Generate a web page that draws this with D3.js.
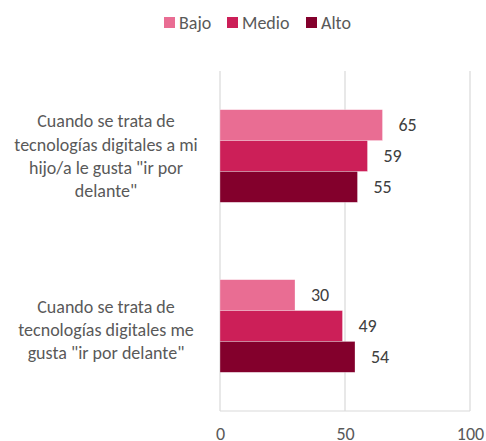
<!DOCTYPE html>
<html>
<head>
<meta charset="utf-8">
<script src="https://cdn.jsdelivr.net/npm/d3@7"></script>
<style>
  html, body { margin: 0; padding: 0; background: #fff; }
  svg { display: block; font-family: Carlito, "Open Sans", sans-serif; }
</style>
</head>
<body>
<svg id="chart" width="486" height="441"></svg>
<script>
const categories = [
  ["Cuando se trata de", "tecnologías digitales a mi", "hijo/a le gusta \"ir por", "delante\""],
  ["Cuando se trata de", "tecnologías digitales me", "gusta \"ir por delante\""]
];
const categoryKeys = ["c1", "c2"];
const seriesNames = ["Bajo", "Medio", "Alto"];
const seriesColors = ["#E96D93", "#CC1F58", "#83002C"];
const bajo = [65, 30];
const medio = [59, 49];
const alto = [55, 54];
const xTicks = [0, 50, 100];

const seriesValues = [bajo, medio, alto];
const svg = d3.select("#chart");
const FS = 18;
const x = d3.scaleLinear().domain([0, 100]).range([220, 470]);
const y = d3.scaleBand().domain(categoryKeys).range([71, 411]).paddingInner(0.455).paddingOuter(0.2275);
const ySub = d3.scaleBand().domain(seriesNames).range([0, y.bandwidth()]);

// gridlines
svg.append("g").selectAll("line").data(xTicks).join("line")
  .attr("x1", d => x(d)).attr("x2", d => x(d))
  .attr("y1", 71).attr("y2", 411)
  .attr("stroke", "#d9d9d9").attr("stroke-width", 1.2);
svg.append("line").attr("x1", x(0)).attr("x2", x(100)).attr("y1", 411).attr("y2", 411)
  .attr("stroke", "#d9d9d9").attr("stroke-width", 1.2);

// bars
seriesNames.forEach((s, si) => {
  const g = svg.append("g");
  g.selectAll("rect").data(categoryKeys).join("rect")
    .attr("x", x(0))
    .attr("y", (c) => y(c) + ySub(s))
    .attr("width", (c, i) => x(seriesValues[si][i]) - x(0))
    .attr("height", ySub.bandwidth())
    .attr("fill", seriesColors[si])
    .attr("stroke", "#ffffff").attr("stroke-width", 0.6).attr("stroke-opacity", 0.5);
  g.selectAll("text").data(categoryKeys).join("text")
    .attr("x", (c, i) => x(seriesValues[si][i]) + 16)
    .attr("y", (c) => y(c) + ySub(s) + ySub.bandwidth() / 2)
    .attr("dy", "0.35em")
    .attr("fill", "#404040")
    .attr("font-size", FS)
    .text((c, i) => seriesValues[si][i]);
});

// x axis labels
const xAxis = d3.axisBottom(x).tickValues(xTicks).tickSize(0).tickPadding(0);
const ax = svg.append("g").attr("transform", "translate(0,440)").call(xAxis);
ax.select(".domain").remove();
ax.selectAll("text").attr("fill", "#595959").attr("font-size", FS)
  .attr("font-family", "Carlito, 'Open Sans', sans-serif").attr("dy", "0");

// category labels
const lineH = 23.3;
categoryKeys.forEach((c, i) => {
  const lines = categories[i];
  const cy = y(c) + y.bandwidth() / 2 + (i === 1 ? 3.5 : 0);
  const t = svg.append("text").attr("text-anchor", "middle").attr("fill", "#595959").attr("font-size", FS);
  lines.forEach((ln, li) => {
    t.append("tspan").attr("x", 106)
      .attr("y", cy + (li - (lines.length - 1) / 2) * lineH)
      .attr("dy", "0.35em").text(ln);
  });
});

// legend
const legendX = [164, 227, 306];
const lg = svg.append("g");
seriesNames.forEach((s, i) => {
  lg.append("rect").attr("x", legendX[i]).attr("y", 17).attr("width", 11).attr("height", 11).attr("fill", seriesColors[i]);
  lg.append("text").attr("x", legendX[i] + 15).attr("y", 22.5).attr("dy", "0.35em")
    .attr("fill", "#595959").attr("font-size", FS).text(s);
});
</script>
</body>
</html>
